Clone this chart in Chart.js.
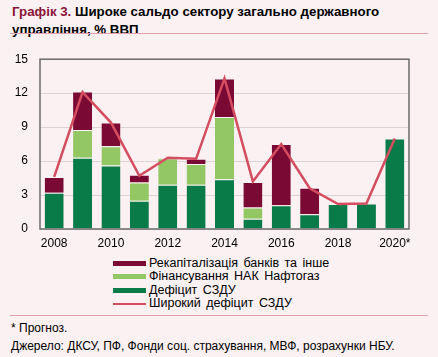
<!DOCTYPE html>
<html><head><meta charset="utf-8">
<script src="https://cdn.jsdelivr.net/npm/chart.js@4/dist/chart.umd.min.js"></script>
<style>
html,body{margin:0;padding:0;background:#fbf0f2;}
body{width:438px;height:357px;position:relative;overflow:hidden;font-family:"Liberation Sans",Arial,sans-serif;color:#000;}
#title{position:absolute;left:12px;top:3px;width:420px;font-weight:bold;font-size:13.3px;line-height:18px;}
#title span{color:#8a1538;}
.sep{position:absolute;left:10px;width:418px;height:0;border-top:1.5px solid #e0a3ad;}
#wrap{position:absolute;left:0;top:40px;width:438px;height:215px;}
#legend{position:absolute;left:113px;top:257px;font-size:12.5px;}
.li{height:13.3px;line-height:13.3px;display:flex;align-items:center;white-space:nowrap;word-spacing:2px;}
.sw{display:inline-block;width:33px;margin-right:3px;}
#foot{position:absolute;left:11px;top:319px;font-size:12px;line-height:18px;}
</style></head><body>
<div id="title"><span>Графік 3.</span> Широке сальдо сектору загально державного управління, % ВВП</div>
<div class="sep" style="top:33px"></div>
<div id="wrap"><canvas id="c" width="438" height="215"></canvas></div>
<div id="legend"></div>
<div class="sep" style="top:315px"></div>
<div id="foot">* Прогноз.<br>Джерело: ДКСУ, ПФ, Фонди соц. страхування, МВФ, розрахунки НБУ.</div>
<script>
const years = ['2008','2009','2010','2011','2012','2013','2014','2015','2016','2017','2018','2019','2020*'];
const deficit = [3.2, 6.3, 5.6, 2.5, 3.9, 3.9, 4.4, 0.9, 2.1, 1.3, 2.2, 2.25, 8.0];
const naftogaz = [0, 2.45, 1.7, 1.6, 2.35, 1.85, 5.5, 1.0, 0, 0, 0, 0, 0];
const recap = [1.4, 3.4, 2.1, 0.7, 0.05, 0.45, 3.4, 2.25, 5.4, 2.35, 0, 0, 0];
const broad = [4.6, 12.1, 9.4, 4.7, 6.3, 6.2, 13.3, 4.2, 7.5, 3.6, 2.2, 2.25, 8.0];
const yTicks = [0, 3, 6, 9, 12, 15];
const names = ['Рекапіталізація банків та інше','Фінансування НАК Нафтогаз','Дефіцит СЗДУ','Широкий дефіцит СЗДУ'];
const colors = {recap:'#7a0a33', naft:'#93c764', def:'#097b48', line:'#d44d60'};

const frame = {
  id:'frame',
  afterDatasetsDraw(chart){
    const a = chart.chartArea, ctx = chart.ctx;
    ctx.save();
    ctx.strokeStyle = '#6b6b6b'; ctx.lineWidth = 1.5;
    ctx.strokeRect(a.left, a.top, a.right - a.left, a.bottom - a.top);
    ctx.restore();
  }
};

const barDs = (label, data, color) => ({
  type:'bar', label, data, backgroundColor: color, stack:'s', order:1,
  borderColor:'rgba(255,255,255,0.25)', borderWidth:{top:1,left:0,right:0,bottom:0},
  barPercentage:0.67, categoryPercentage:1.0
});

new Chart(document.getElementById('c'), {
  data:{
    labels: years,
    datasets:[
      barDs(names[2], deficit, colors.def),
      barDs(names[1], naftogaz, colors.naft),
      barDs(names[0], recap, colors.recap),
      {type:'line', label:names[3], data:broad, borderColor:colors.line, borderWidth:2.5,
       pointRadius:0, tension:0, fill:false, order:0}
    ]
  },
  options:{
    responsive:false, animation:false,
    layout:{padding:{top:16, right:29, left:0, bottom:0}},
    plugins:{legend:{display:false}, tooltip:{enabled:false}},
    scales:{
      x:{
        stacked:true,
        grid:{display:false, drawTicks:false},
        border:{display:false},
        ticks:{
          autoSkip:false, maxRotation:0, padding:7, color:'#000',
          font:{family:'"Liberation Sans", Arial', size:12},
          callback:(v,i)=> i % 2 === 0 ? years[i] : ''
        },
        afterFit:s=>{ s.height = 26; }
      },
      y:{
        stacked:true, min:0, max:15,
        afterBuildTicks:s=>{ s.ticks = yTicks.map(v=>({value:v})); },
        grid:{color:'#dcd3d5', lineWidth:1, drawTicks:false},
        border:{display:false},
        ticks:{padding:12, color:'#000', font:{family:'"Liberation Sans", Arial', size:12}},
        afterFit:s=>{ s.width = 40; }
      }
    }
  },
  plugins:[frame]
});

const leg = document.getElementById('legend');
[[names[0],colors.recap,5],[names[1],colors.naft,5],[names[2],colors.def,5],[names[3],colors.line,2]].forEach(([n,c,h])=>{
  const d = document.createElement('div'); d.className='li';
  d.innerHTML = '<span class="sw" style="height:'+h+'px;background:'+c+'"></span>'+n;
  leg.appendChild(d);
});
</script>
</body></html>
